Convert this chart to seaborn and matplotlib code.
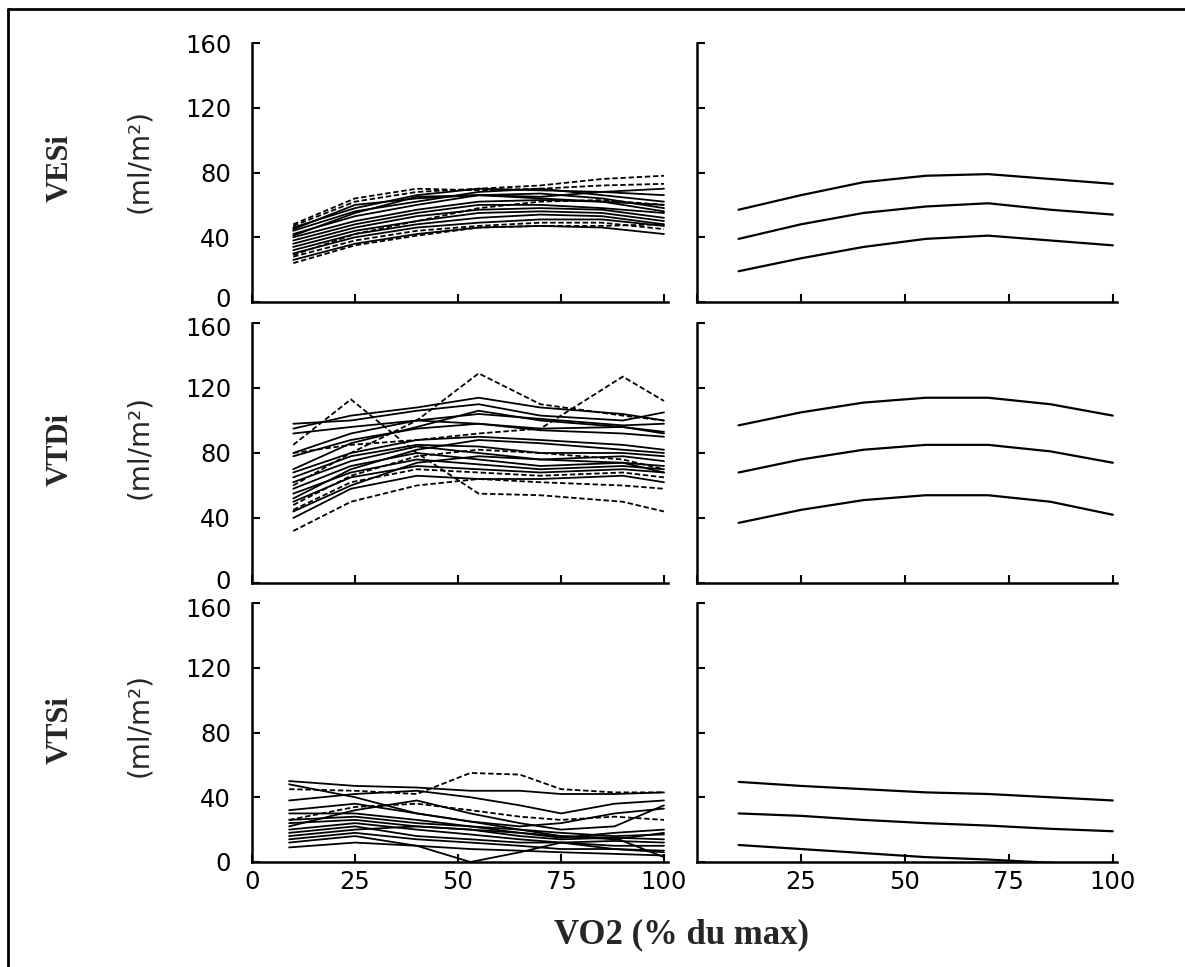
import numpy as np
import pandas as pd
import matplotlib
matplotlib.use("Agg")
import matplotlib.pyplot as plt
import matplotlib.transforms as mtransforms
import seaborn as sns
from matplotlib.lines import Line2D

# ---------------- data ----------------
row_names = ["VESi", "VTDi", "VTSi"]
unit_label = "(ml/m\u00b2)"
x_title = "VO2 (% du max)"

# individual subjects, left column
vesi_x = [10, 25, 40, 55, 70, 85, 100]
vesi_subjects = [
    [47, 62, 68, 70, 72, 76, 78],
    [46, 58, 66, 70, 69, 68, 66],
    [44, 56, 62, 68, 70, 66, 62],
    [42, 53, 60, 66, 67, 64, 58],
    [40, 50, 57, 62, 63, 62, 60],
    [38, 48, 55, 60, 60, 58, 55],
    [36, 46, 53, 57, 58, 57, 52],
    [34, 44, 50, 55, 56, 55, 50],
    [32, 42, 48, 52, 54, 53, 48],
    [30, 40, 46, 49, 51, 51, 47],
    [28, 38, 44, 47, 49, 49, 45],
    [26, 36, 42, 46, 47, 46, 42],
    [24, 35, 41, 46, 47, 47, 48],
    [45, 60, 64, 66, 65, 68, 70],
    [48, 64, 70, 69, 70, 72, 73],
    [41, 55, 65, 66, 64, 62, 56],
    [29, 42, 50, 58, 62, 63, 60],
]
vesi_dashed = [0, 12, 14, 16, 10]

vtdi_x = [10, 24, 40, 55, 70, 90, 100]
vtdi_subjects = [
    [98, 100, 106, 110, 103, 100, 105],
    [95, 103, 108, 114, 108, 104, 100],
    [85, 113, 80, 55, 54, 50, 44],
    [80, 92, 100, 104, 101, 97, 98],
    [78, 88, 95, 98, 94, 92, 90],
    [60, 80, 100, 129, 110, 103, 100],
    [80, 85, 88, 92, 95, 127, 112],
    [68, 80, 88, 90, 88, 85, 82],
    [65, 78, 85, 84, 80, 80, 78],
    [62, 75, 84, 80, 76, 78, 75],
    [58, 72, 80, 76, 72, 74, 72],
    [55, 68, 76, 73, 70, 72, 70],
    [50, 65, 72, 70, 68, 70, 68],
    [45, 62, 70, 68, 66, 68, 65],
    [40, 58, 66, 64, 64, 66, 62],
    [32, 50, 60, 64, 62, 60, 58],
    [92, 96, 100, 98, 95, 96, 93],
    [70, 86, 96, 106, 100, 96, 92],
    [48, 66, 78, 82, 80, 76, 70],
    [52, 70, 82, 88, 86, 82, 80],
    [44, 60, 74, 78, 76, 74, 68],
]
vtdi_dashed = [2, 5, 6, 13, 15, 18]

vtsi_x = [9, 25, 40, 53, 65, 75, 88, 100]
vtsi_subjects = [
    [50, 47, 46, 44, 44, 42, 42, 43],
    [45, 44, 42, 55, 54, 45, 43, 43],
    [38, 42, 44, 40, 35, 30, 36, 38],
    [32, 36, 30, 25, 22, 24, 30, 33],
    [30, 30, 26, 22, 18, 15, 18, 20],
    [26, 28, 24, 22, 20, 18, 16, 17],
    [24, 26, 22, 20, 18, 16, 15, 14],
    [20, 24, 20, 17, 14, 12, 13, 12],
    [18, 22, 16, 14, 12, 12, 10, 10],
    [14, 18, 14, 12, 10, 8, 8, 7],
    [12, 16, 10, 0, 6, 12, 8, 6],
    [9, 12, 10, 8, 7, 6, 5, 4],
    [48, 40, 30, 25, 20, 16, 14, 18],
    [26, 34, 36, 32, 28, 26, 28, 26],
    [22, 32, 38, 30, 24, 20, 22, 35],
    [16, 20, 22, 20, 16, 14, 15, 3],
]
vtsi_dashed = [1, 13]

# mean +/- SD, right column
band_x = [10, 25, 40, 55, 70, 85, 100]
vesi_upper = [57, 66, 74, 78, 79, 76, 73]
vesi_mean = [39, 48, 55, 59, 61, 57, 54]
vesi_lower = [19, 27, 34, 39, 41, 38, 35]
vtdi_upper = [97, 105, 111, 114, 114, 110, 103]
vtdi_mean = [68, 76, 82, 85, 85, 81, 74]
vtdi_lower = [37, 45, 51, 54, 54, 50, 42]
vtsi_upper = [49.5, 47, 45, 43, 42, 40, 38]
vtsi_mean = [30, 28.5, 26, 24, 22.5, 20.5, 19]
vtsi_lower = [10.5, 8, 5.5, 3, 1.5, -0.5, -3]

y_ticks = [0, 40, 80, 120, 160]
x_ticks = [0, 25, 50, 75, 100]

# ---------------- figure ----------------
sns.set_style("ticks")
plt.rcParams["font.family"] = ["DejaVu Sans"]

fig = plt.figure(figsize=(11.85, 9.67), dpi=100)

left_x, left_w = 0.2127, 0.3511
right_x, right_w = 0.5882, 0.3544
rows_pos = [(0.6877, 0.2678), (0.3971, 0.2689), (0.1086, 0.2678)]

panels = [
    (vesi_x, vesi_subjects, vesi_dashed, [vesi_upper, vesi_mean, vesi_lower]),
    (vtdi_x, vtdi_subjects, vtdi_dashed, [vtdi_upper, vtdi_mean, vtdi_lower]),
    (vtsi_x, vtsi_subjects, vtsi_dashed, [vtsi_upper, vtsi_mean, vtsi_lower]),
]


def style_axis(ax):
    ax.set_xlim(0, 101)
    ax.set_ylim(0, 160)
    ax.set_yticks(y_ticks)
    ax.set_xticks(x_ticks)
    for s in ["top", "right"]:
        ax.spines[s].set_visible(False)
    for s in ["left", "bottom"]:
        ax.spines[s].set_linewidth(1.8)
        ax.spines[s].set_color("black")
    ax.tick_params(direction="in", length=6, width=1.5, labelsize=17.5,
                   colors="black")
    ax.tick_params(axis="y", pad=15)
    ax.tick_params(axis="x", pad=6)
    ax.set_xlabel("")
    ax.set_ylabel("")


left_axes = []
for r, (gx, subjects, dashed, bands) in enumerate(panels):
    b, h = rows_pos[r]

    # left: individual curves
    axl = fig.add_axes([left_x, b, left_w, h])
    rows = []
    for i, vals in enumerate(subjects):
        kind = "dash" if i in dashed else "solid"
        for xv, yv in zip(gx, vals):
            rows.append({"x": xv, "y": yv, "subject": i, "kind": kind})
    df = pd.DataFrame(rows)
    sns.lineplot(data=df, x="x", y="y", units="subject", estimator=None,
                 style="kind", dashes={"solid": "", "dash": (3, 1.5)},
                 color="black", lw=1.3, sort=False, legend=False, ax=axl)
    style_axis(axl)
    if r < 2:
        axl.tick_params(labelbottom=False)
    left_axes.append(axl)

    # right: mean +/- SD
    axr = fig.add_axes([right_x, b, right_w, h])
    rows = []
    for j, vals in enumerate(bands):
        for xv, yv in zip(band_x, vals):
            rows.append({"x": xv, "y": yv, "band": j})
    dfb = pd.DataFrame(rows)
    sns.lineplot(data=dfb, x="x", y="y", units="band", estimator=None,
                 color="black", lw=1.6, sort=False, legend=False, ax=axr)
    style_axis(axr)
    axr.tick_params(labelleft=False)
    if r < 2:
        axr.tick_params(labelbottom=False)
    else:
        axr.set_xticks([25, 50, 75, 100])

# nudge the "0" / "160" labels where two panels meet so they don't collide
up = mtransforms.ScaledTranslation(0, 4 / 100, fig.dpi_scale_trans)
down = mtransforms.ScaledTranslation(0, -4 / 100, fig.dpi_scale_trans)
for r, ax in enumerate(left_axes):
    ticks = ax.yaxis.get_major_ticks()
    if r < 2:
        ticks[0].label1.set_transform(ticks[0].label1.get_transform() + up)
    if r > 0:
        ticks[-1].label1.set_transform(ticks[-1].label1.get_transform() + down)

# row labels
row_centers = [0.826, 0.535, 0.245]
unit_centers = [0.834, 0.538, 0.250]
for name, yc, yu in zip(row_names, row_centers, unit_centers):
    fig.text(0.0506, yc, name, rotation=90, ha="center", va="center",
             fontsize=22, fontweight="bold",
             family=["Liberation Serif", "DejaVu Serif"])
    fig.text(0.1173, yu, unit_label, rotation=90, ha="center", va="center",
             fontsize=20)

fig.text(0.5747, 0.033, x_title, ha="center", va="center", fontsize=25,
         fontweight="bold", family=["Liberation Serif", "DejaVu Serif"])

# frame lines (left and top only)
fig.add_artist(Line2D([0.00675, 0.00675], [0.0, 0.9907], color="black",
                      lw=2.0, transform=fig.transFigure))
fig.add_artist(Line2D([0.00675, 1.0], [0.9907, 0.9907], color="black",
                      lw=2.0, transform=fig.transFigure))

fig.savefig("out.png", dpi=100, facecolor="white")
